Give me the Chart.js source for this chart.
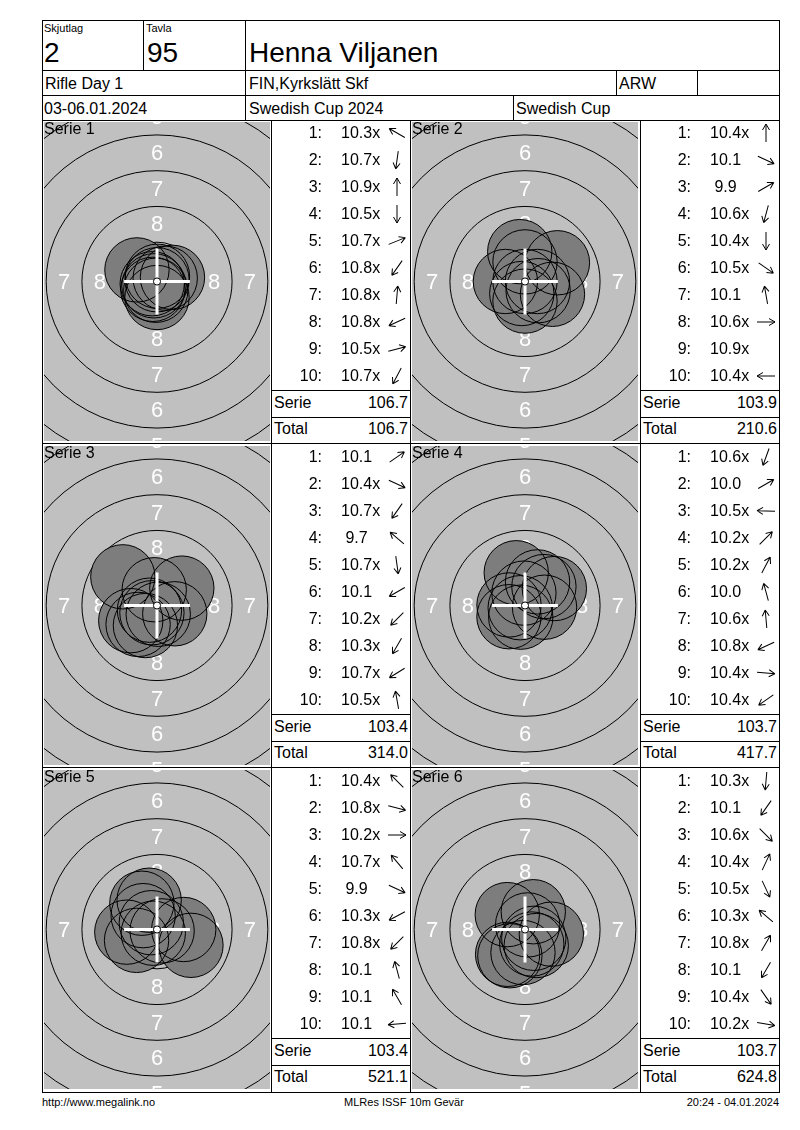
<!DOCTYPE html>
<html lang="sv">
<head>
<meta charset="UTF-8">
<title>Skjutkort - Henna Viljanen</title>
<script src="https://cdn.jsdelivr.net/npm/chart.js"></script>
<style>
  body { margin: 0; background: #fff; font-family: "Liberation Sans", Arial, sans-serif; color: #000; }
  #sheet { position: relative; width: 800px; height: 1130px; overflow: hidden; }
  .ln { position: absolute; background: #000; }
  .t { position: absolute; white-space: pre; }
  canvas { position: absolute; }
</style>
</head>
<body>
<div id="sheet"></div>
<script>
  // skott per serie: poäng som de står i listan, riktning från pilen (grader, 0 = höger, 90 = upp)
  const SERIES_NAMES = ['Serie 1', 'Serie 2', 'Serie 3', 'Serie 4', 'Serie 5', 'Serie 6'];

  const SCORES_1 = ['10.3x', '10.7x', '10.9x', '10.5x', '10.7x', '10.8x', '10.8x', '10.8x', '10.5x', '10.7x'];
  const ANGLES_1 = [150, 262, 90, 270, 22, 235, 85, 205, 15, 242];

  const SCORES_2 = ['10.4x', '10.1', ' 9.9', '10.6x', '10.4x', '10.5x', '10.1', '10.6x', '10.9x', '10.4x'];
  const ANGLES_2 = [90, 335, 30, 255, 270, 325, 100, 0, null, 180];

  const SCORES_3 = ['10.1', '10.4x', '10.7x', ' 9.7', '10.7x', '10.1', '10.2x', '10.3x', '10.7x', '10.5x'];
  const ANGLES_3 = [35, 335, 235, 140, 278, 210, 225, 240, 212, 100];

  const SCORES_4 = ['10.6x', '10.0', '10.5x', '10.2x', '10.2x', '10.0', '10.6x', '10.8x', '10.4x', '10.4x'];
  const ANGLES_4 = [250, 30, 178, 45, 62, 105, 95, 205, 355, 215];

  const SCORES_5 = ['10.4x', '10.8x', '10.2x', '10.7x', ' 9.9', '10.3x', '10.8x', '10.1', '10.1', '10.1'];
  const ANGLES_5 = [135, 345, 0, 130, 335, 208, 225, 105, 120, 185];

  const SCORES_6 = ['10.3x', '10.1', '10.6x', '10.4x', '10.5x', '10.3x', '10.8x', '10.1', '10.4x', '10.2x'];
  const ANGLES_6 = [265, 235, 315, 65, 295, 140, 60, 240, 305, 350];

  const ALL_SCORES = [SCORES_1, SCORES_2, SCORES_3, SCORES_4, SCORES_5, SCORES_6];
  const ALL_ANGLES = [ANGLES_1, ANGLES_2, ANGLES_3, ANGLES_4, ANGLES_5, ANGLES_6];

  // 10m luftgevär, mått i mm
  const TEN_R = 0.25, RING_STEP = 2.5, PELLET_R = 2.25;
  const PX_PER_MM = 14.3;

  const sheet = document.getElementById('sheet');

  function line(x1, y1, x2, y2) {
    const d = document.createElement('div');
    d.className = 'ln';
    d.style.left = Math.min(x1, x2) + 'px';
    d.style.top = Math.min(y1, y2) + 'px';
    d.style.width = (Math.abs(x2 - x1) || 1) + 'px';
    d.style.height = (Math.abs(y2 - y1) || 1) + 'px';
    sheet.appendChild(d);
  }

  function text(str, x, base, size, align) {
    const d = document.createElement('div');
    d.className = 't';
    d.textContent = str;
    d.style.fontSize = size + 'px';
    d.style.lineHeight = size + 'px';
    d.style.top = (base - 0.85 * size) + 'px';
    if (align === 'right') {
      d.style.right = (800 - x) + 'px';
    } else if (align === 'center') {
      d.style.left = (x - 200) + 'px';
      d.style.width = '400px';
      d.style.textAlign = 'center';
    } else {
      d.style.left = x + 'px';
    }
    sheet.appendChild(d);
  }

  function arrow(cx, cy, deg) {
    const ns = 'http://www.w3.org/2000/svg';
    const svg = document.createElementNS(ns, 'svg');
    svg.setAttribute('width', 22);
    svg.setAttribute('height', 22);
    svg.setAttribute('viewBox', '-11 -11 22 22');
    svg.style.position = 'absolute';
    svg.style.left = (cx - 11) + 'px';
    svg.style.top = (cy - 11) + 'px';
    const p = document.createElementNS(ns, 'path');
    p.setAttribute('d', 'M-9 0 L9 0 M9 0 L3 -3.5 M9 0 L3 3.5');
    p.setAttribute('stroke', '#000');
    p.setAttribute('stroke-width', '1');
    p.setAttribute('fill', 'none');
    p.setAttribute('transform', 'rotate(' + (-deg) + ')');
    svg.appendChild(p);
    sheet.appendChild(svg);
  }

  // skottets läge ur decimalpoäng och riktning
  function shotPoints(scores, angles) {
    return scores.map((s, i) => {
      const a = angles[i];
      if (a === null) return { x: 0, y: 0 };
      const d = (10.9 - parseFloat(s)) * RING_STEP + 0.12;
      const rad = a * Math.PI / 180;
      return { x: d * Math.cos(rad), y: d * Math.sin(rad) };
    });
  }

  const targetPlugin = {
    id: 'target',
    beforeDatasetsDraw(chart) {
      const { ctx, chartArea: a, scales: { x, y } } = chart;
      const cx = x.getPixelForValue(0), cy = y.getPixelForValue(0);
      const mm = Math.abs(x.getPixelForValue(1) - cx);
      ctx.save();
      ctx.beginPath();
      ctx.rect(a.left, a.top, a.right - a.left, a.bottom - a.top);
      ctx.clip();
      ctx.fillStyle = '#c0c0c0';
      ctx.fillRect(a.left, a.top, a.right - a.left, a.bottom - a.top);
      ctx.strokeStyle = '#000';
      ctx.lineWidth = 1;
      for (let n = 1; n <= 9; n++) {
        ctx.beginPath();
        ctx.arc(cx, cy, (TEN_R + (10 - n) * RING_STEP) * mm, 0, Math.PI * 2);
        ctx.stroke();
      }
      ctx.fillStyle = '#fff';
      ctx.font = '22px "Liberation Sans", Arial, sans-serif';
      ctx.textAlign = 'center';
      ctx.textBaseline = 'middle';
      for (let n = 1; n <= 8; n++) {
        const r = ((10 - n) * RING_STEP - 1.0) * mm;
        ctx.fillText(String(n), cx, cy - r + 1);
        ctx.fillText(String(n), cx, cy + r + 1);
        ctx.fillText(String(n), cx - r, cy + 1);
        ctx.fillText(String(n), cx + r, cy + 1);
      }
      ctx.restore();
    },
    afterDatasetsDraw(chart) {
      const { ctx, scales: { x, y } } = chart;
      const cx = x.getPixelForValue(0), cy = y.getPixelForValue(0);
      const mm = Math.abs(x.getPixelForValue(1) - cx);
      const arm = 2.3 * mm;
      ctx.save();
      ctx.strokeStyle = '#fff';
      ctx.lineWidth = 3;
      ctx.beginPath();
      ctx.moveTo(cx - arm, cy); ctx.lineTo(cx + arm, cy);
      ctx.moveTo(cx, cy - arm); ctx.lineTo(cx, cy + arm);
      ctx.stroke();
      ctx.beginPath();
      ctx.arc(cx, cy, TEN_R * mm, 0, Math.PI * 2);
      ctx.fillStyle = '#fff';
      ctx.fill();
      ctx.strokeStyle = '#000';
      ctx.lineWidth = 1;
      ctx.stroke();
      ctx.restore();
    }
  };

  function pelletRadius(c) {
    const s = c.chart.scales.x;
    return Math.abs(s.getPixelForValue(PELLET_R) - s.getPixelForValue(0));
  }

  function drawTarget(left, top, w, h, pts) {
    const cv = document.createElement('canvas');
    cv.width = w;
    cv.height = h;
    cv.style.left = left + 'px';
    cv.style.top = top + 'px';
    cv.style.width = w + 'px';
    cv.style.height = h + 'px';
    sheet.appendChild(cv);
    const xr = w / 2 / PX_PER_MM, yr = h / 2 / PX_PER_MM;
    new Chart(cv, {
      type: 'scatter',
      data: {
        datasets: [
          { data: pts, order: 0, pointRadius: pelletRadius, pointHoverRadius: pelletRadius,
            backgroundColor: 'rgba(0,0,0,0)', borderColor: '#000', borderWidth: 1 },
          { data: pts, order: 1, pointRadius: pelletRadius, pointHoverRadius: pelletRadius,
            backgroundColor: '#7d7d7d', borderColor: '#7d7d7d', borderWidth: 0 }
        ]
      },
      options: {
        responsive: false,
        animation: false,
        events: [],
        layout: { padding: 0, autoPadding: false },
        scales: {
          x: { type: 'linear', min: -xr, max: xr, display: false },
          y: { type: 'linear', min: -yr, max: yr, display: false }
        },
        plugins: { legend: { display: false }, tooltip: { enabled: false } }
      },
      plugins: [targetPlugin]
    });
  }

  // huvud
  line(42, 20, 779, 20);
  line(42, 70, 779, 70);
  line(42, 95, 779, 95);
  line(42, 120, 779, 120);
  line(42, 20, 42, 1093);
  line(779, 20, 779, 1093);
  line(143, 20, 143, 70);
  line(245, 20, 245, 120);
  line(616, 70, 616, 95);
  line(697, 70, 697, 95);
  line(513, 95, 513, 120);

  text('Skjutlag', 44, 32, 11);
  text('Tavla', 146, 32, 11);
  text('2', 44, 63, 28);
  text('95', 147, 63, 28);
  text('Henna Viljanen', 249, 63, 28);
  text('Rifle Day 1', 45, 90, 16);
  text('FIN,Kyrkslätt Skf', 249, 90, 16);
  text('ARW', 619, 90, 16);
  text('03-06.01.2024', 44, 115, 16);
  text('Swedish Cup 2024', 249, 115, 16);
  text('Swedish Cup', 516, 115, 16);

  // serier
  const ROW_TOP = [120, 444, 768];
  const TARGET_LEFT = [44, 412];
  const TABLE_LEFT = [271, 640];
  const TABLE_RIGHT = [410, 779];

  line(42, 443, 779, 443);
  line(42, 767, 779, 767);
  line(42, 1092, 779, 1093);
  line(271, 120, 271, 1092);
  line(410, 120, 410, 1092);
  line(640, 120, 640, 1092);

  let total = 0;
  ALL_SCORES.forEach((scores, k) => {
    const r = Math.floor(k / 2), c = k % 2;
    const top = ROW_TOP[r], tl = TABLE_LEFT[c], tr = TABLE_RIGHT[c];

    drawTarget(TARGET_LEFT[c], top + 2, 226, 319, shotPoints(scores, ALL_ANGLES[k]));
    text(SERIES_NAMES[k], TARGET_LEFT[c], top + 14.5, 16);

    let serie = 0;
    scores.forEach((s, i) => {
      const base = top + 18.5 + 27 * i;
      text((i + 1) + ':', tl + 51, base, 16, 'right');
      text(s, tl + 70, base, 16);
      if (ALL_ANGLES[k][i] !== null) arrow(tl + 126, base - 6, ALL_ANGLES[k][i]);
      serie += parseFloat(s);
    });
    total += serie;

    line(tl, top + 270, tr, top + 270);
    line(tl, top + 297, tr, top + 297);
    text('Serie', tl + 3, top + 288.7, 16);
    text(serie.toFixed(1), tr - 2, top + 288.7, 16, 'right');
    text('Total', tl + 3, top + 314.7, 16);
    text(total.toFixed(1), tr - 2, top + 314.7, 16, 'right');
  });

  // fot
  text('http://www.megalink.no', 42, 1106, 11);
  text('MLRes ISSF 10m Gevär', 404, 1106, 11, 'center');
  text('20:24 - 04.01.2024', 779, 1106, 11, 'right');
</script>
</body>
</html>
